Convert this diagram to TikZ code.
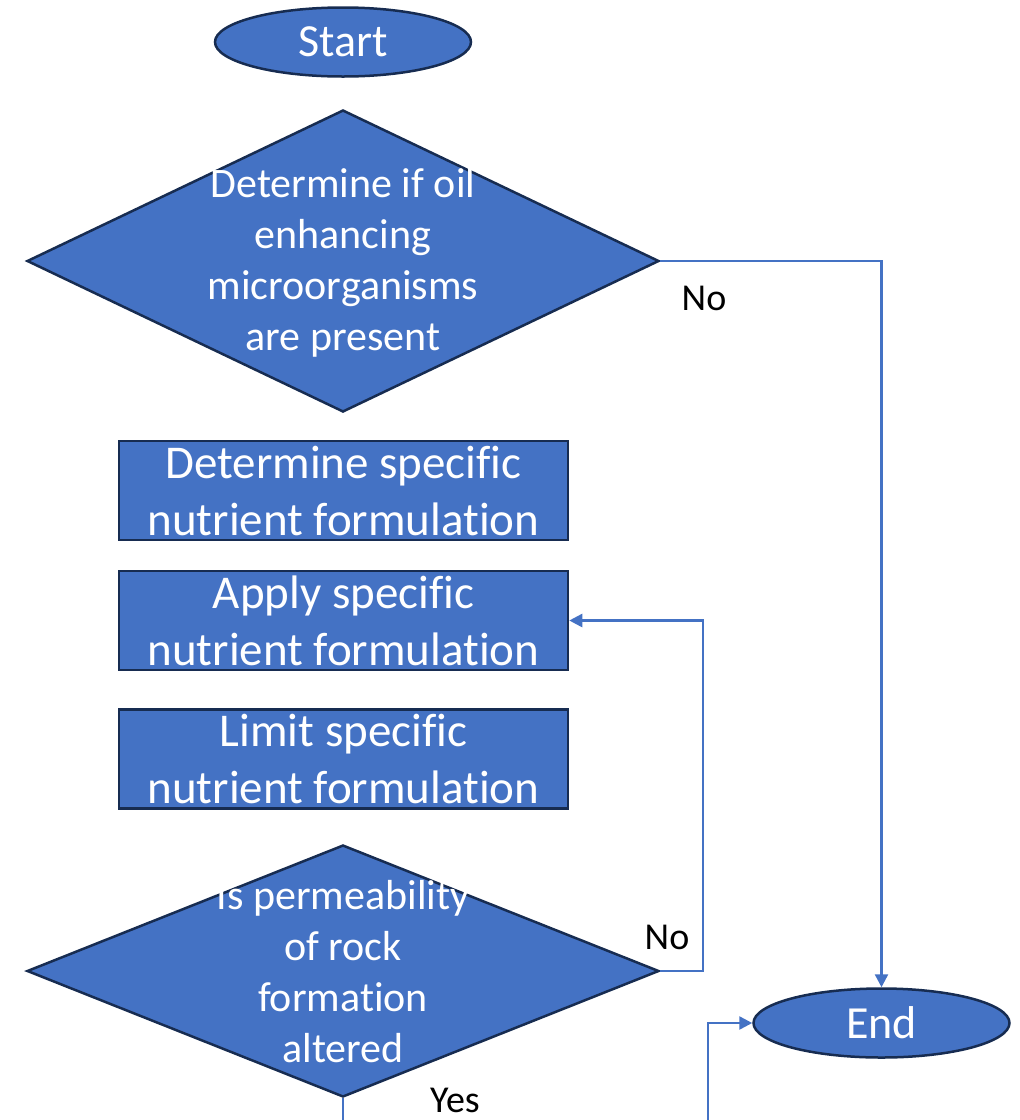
\documentclass[tikz,border=0pt]{standalone}
\usepackage{fontspec}
\setmainfont{Carlito}
\usetikzlibrary{shapes.geometric,arrows.meta}
\definecolor{fillblue}{HTML}{4472C4}
\definecolor{edgeblue}{HTML}{172C51}
\newcommand{\nlg}{\kern0pt }
\begin{document}
\begin{tikzpicture}[x=1pt,y=-1pt,
  term/.style={ellipse,draw=edgeblue,fill=fillblue,line width=2.5pt,inner sep=0pt,
    minimum width=256pt,minimum height=69pt,text=white,font=\fontsize{46}{55}\selectfont},
  procbox/.style={rectangle,draw=edgeblue,fill=fillblue,line width=2.5pt,inner sep=0pt,
    minimum width=449pt,minimum height=99pt,text=white,align=center,font=\fontsize{47}{57}\selectfont},
  decide/.style={diamond,draw=edgeblue,fill=fillblue,line width=2.5pt,inner sep=0pt,
    minimum width=632pt},
  dtext/.style={text=white,align=center,inner sep=0pt,font=\fontsize{42}{51}\selectfont},
  conn/.style={draw=fillblue,line width=2.5pt},
  arr/.style={conn,-{Triangle[length=13pt,width=13pt]}},
  lbl/.style={text=black,inner sep=0pt,font=\fontsize{38}{46}\selectfont}]
\useasboundingbox (0,0) rectangle (1020,1120);
\node[term] (start) at (343,42) {Start};
\node[decide,minimum height=302pt] (d1) at (343,261) {};
\node[dtext] (d1t) at (343,263) {Determine if oil\\enhancing\\microorganisms\\are present};
\node[procbox] (b1) at (343.5,490.5) {Determine specif\nlg ic\\nutrient formulat\nlg ion};
\node[procbox] (b2) at (343.5,620.5) {Apply specif\nlg ic\\nutrient formulat\nlg ion};
\node[procbox] (b3) at (343.5,759) {Limit specif\nlg ic\\nutrient formulat\nlg ion};
\node[decide,minimum height=252pt] (d2) at (343,971) {};
\node[dtext] (d2t) at (343,972) {Is permeability\\of rock\\format\nlg ion\\altered};
\node[term] (end) at (881.5,1023) {End};
\coordinate (c1) at (703,971);
\coordinate (c2) at (343,1122);
\coordinate (c3) at (708,1122);
\draw[arr] (d1.east) -| (end.north);
\draw[arr] (d2.east) -- (c1) |- (b2.east);
\draw[conn] (d2.south) -- (c2);
\draw[arr] (c3) |- (end.west);
\node[lbl] (no1) at (704,298) {No};
\node[lbl] (no2) at (667,937) {No};
\node[lbl] (yes) at (455,1100) {Yes};
\end{tikzpicture}
\end{document}
